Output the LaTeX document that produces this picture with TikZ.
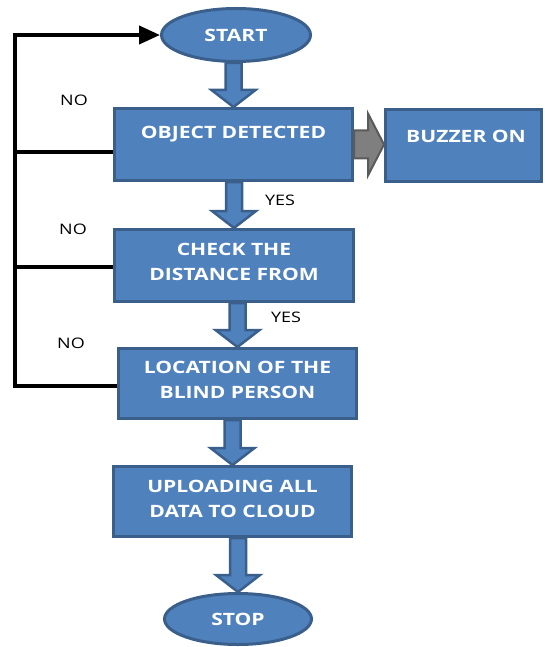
\documentclass[tikz,border=0pt]{standalone}
\usepackage{fontspec}
\newfontfamily\osf{Open Sans}[FakeStretch=1.24]
\usetikzlibrary{calc,arrows.meta,shapes.geometric}
\definecolor{bfill}{HTML}{4F81BD}
\definecolor{bline}{HTML}{3A5F8B}
\definecolor{gfill}{HTML}{7F7F7F}
\definecolor{gline}{HTML}{5A5A5A}
\newcommand\varrow[2]{\draw[barrow] ($(#2.north |- #1.south)+(-8,0)$) -- ($(#2.north)+(-8,-17)$) -- ($(#2.north)+(-22,-17)$) -- (#2.north) -- ($(#2.north)+(22,-17)$) -- ($(#2.north)+(8,-17)$) -- ($(#2.north |- #1.south)+(8,0)$) -- cycle;}
\begin{document}
\begin{tikzpicture}[x=1pt,y=-1pt,
 box/.style={draw=bline, fill=bfill, line width=3pt, rectangle, inner sep=0pt},
 oval/.style={draw=bline, fill=bfill, line width=3pt, ellipse, inner sep=0pt},
 btext/.style={text=white, font=\osf\bfseries\fontsize{17}{25}\selectfont, align=center, inner sep=0pt},
 lbl/.style={font=\osf\fontsize{14.5}{16}\selectfont, inner sep=0pt},
 barrow/.style={draw=bline, fill=bfill, line width=2.5pt, line join=miter},
 garrow/.style={draw=gline, fill=gfill, line width=2pt, line join=miter},
 loopline/.style={line width=4pt, line join=miter}
]
\useasboundingbox (0,0) rectangle (544,647);
% nodes
\node[oval, minimum width=149, minimum height=53] (start) at (236,35) {};
\node[btext] (tstart) at (236,35) {START};
\node[box, minimum width=238, minimum height=72] (obj) at (233.5,144.5) {};
\node[btext] (tobj) at (233.5,134) {OBJECT DETECTED};
\node[box, minimum width=156, minimum height=72] (buz) at (463.5,145.5) {};
\node[btext] (tbuz) at (466,136) {BUZZER ON};
\node[box, minimum width=239, minimum height=72] (chk) at (234,265.5) {};
\node[btext] (tchk) at (234,261.5) {CHECK THE\\DISTANCE FROM};
\node[box, minimum width=238, minimum height=70] (loc) at (237.5,383.5) {};
\node[btext] (tloc) at (237.5,379.5) {LOCATION OF THE\\BLIND PERSON};
\node[box, minimum width=238, minimum height=70] (upl) at (232.5,501.5) {};
\node[btext] (tupl) at (232.5,498.5) {UPLOADING ALL\\DATA TO CLOUD};
\node[oval, minimum width=147, minimum height=51] (stop) at (238,619) {};
\node[btext] (tstop) at (238,619) {STOP};
% block arrows
\varrow{start}{obj}
\varrow{obj}{chk}
\varrow{chk}{loc}
\varrow{loc}{upl}
\varrow{upl}{stop}
\draw[garrow] ($(obj.east)+(0,-14)$) -- ($(buz.west |- obj.east)+(-16,-14)$) -- ($(buz.west |- obj.east)+(-16,-31)$) -- (buz.west |- obj.east) -- ($(buz.west |- obj.east)+(-16,31)$) -- ($(buz.west |- obj.east)+(-16,14)$) -- ($(obj.east)+(0,14)$) -- cycle;
% loop lines
\coordinate (lt) at (15,35);
\coordinate (lb) at (15,386);
\draw[loopline,-{Triangle[length=21pt,width=18pt]}] ($(loc.west)+(0,2.5)$) -- (lb) -- (lt) -- (start.west);
\draw[loopline] ($(obj.west)+(0,8)$) coordinate (o1) -- (o1 -| lt);
\draw[loopline] ($(chk.west)+(0,1.5)$) coordinate (c1) -- (c1 -| lt);
% labels
\node[lbl] (no1) at (74,100) {NO};
\node[lbl] (no2) at (73,229) {NO};
\node[lbl] (no3) at (71,343) {NO};
\node[lbl] (yes1) at (280,200) {YES};
\node[lbl] (yes2) at (286,317) {YES};
\end{tikzpicture}
\end{document}
